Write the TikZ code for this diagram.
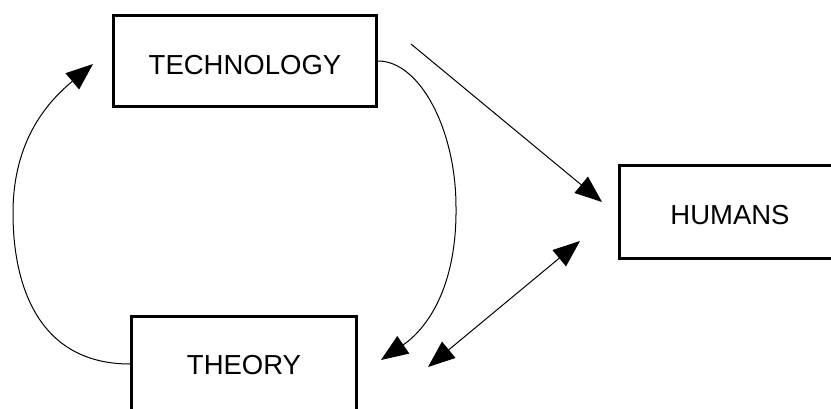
\documentclass[tikz,border=0pt]{standalone}
\usepackage{fontspec}
\setmainfont{Liberation Sans}
\usetikzlibrary{arrows.meta}

\tikzset{
  box/.style={draw=black, line width=3pt, rectangle, inner sep=0pt,
              font=\fontsize{27.5}{33}\selectfont, text depth=0pt},
  link/.style={draw=black, line width=1pt,
               -{Triangle[length=27pt,width=21pt]}},
  twoway/.style={draw=black, line width=1pt,
               {Triangle[length=27pt,width=21pt]}-{Triangle[length=27pt,width=21pt]}}
}

\begin{document}
\begin{tikzpicture}[x=1pt, y=-1pt]
  \useasboundingbox (0,0) rectangle (831,409);
  \clip (0,0) rectangle (831,409);
  \fill[white] (0,0) rectangle (831,409);

  % boxes
  \node[box, minimum width=263pt, minimum height=91pt, text height=27.7pt]
       (tech) at (245,61) {TECHNOLOGY};
  \node[box, minimum width=221pt, minimum height=93pt, text height=24.7pt]
       (humans) at (730,212) {HUMANS};
  \node[box, minimum width=225pt, minimum height=95pt, text height=20.7pt]
       (theory) at (244,364) {THEORY};

  % free ends of the connectors
  \coordinate (leftbulge) at (13,213);
  \coordinate (techin) at (93,64);
  \coordinate (rightbulge) at (456,207);
  \coordinate (theoryin) at (381,360);
  \coordinate (techout) at (411,44);
  \coordinate (humansin) at (602,202);
  \coordinate (theoryend) at (428,367);
  \coordinate (humansend) at (580,241);

  % theory feeds back into technology
  \draw[link] (theory.west) .. controls +(-90,0) and +(0,75) .. (leftbulge)
              .. controls +(0,-75) and +(-43,36) .. (techin);

  % technology leads to theory
  \draw[link] (tech.east) .. controls +(42,0) and +(0,-77) .. (rightbulge)
              .. controls +(1,83) and +(44,-30) .. (theoryin);

  % technology acts on humans
  \draw[link] (techout) -- (humansin);

  % theory and humans inform each other
  \draw[twoway] (theoryend) -- (humansend);
\end{tikzpicture}
\end{document}
